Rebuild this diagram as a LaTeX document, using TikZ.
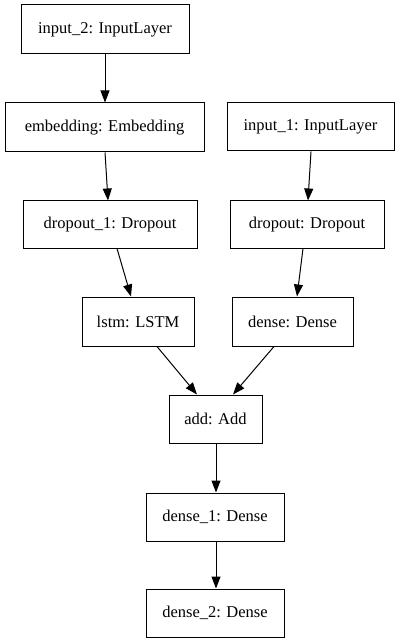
\documentclass[tikz,border=0pt]{standalone}
\usepackage{fontspec}
\setmainfont{Liberation Serif}
\usetikzlibrary{arrows.meta}
\begin{document}
\begin{tikzpicture}[x=1pt,y=-1pt,
  layer/.style={draw,rectangle,line width=1pt,inner sep=0pt,
    font=\fontsize{16.5}{20}\selectfont},
  flow/.style={line width=1pt,-{Triangle[length=12pt,width=9pt]}}]
\useasboundingbox[fill=white] (0,0) rectangle (402,644);
% layers
\node[layer,minimum width=168pt,minimum height=49pt] (in2) at (105,29.5) {input\_2: InputLayer};
\node[layer,minimum width=199pt,minimum height=49pt] (emb) at (104.5,127.5) {embedding: Embedding};
\node[layer,minimum width=167pt,minimum height=48pt] (in1) at (310.5,127) {input\_1: InputLayer};
\node[layer,minimum width=174pt,minimum height=47pt] (do1) at (110,224.5) {dropout\_1: Dropout};
\node[layer,minimum width=154pt,minimum height=47pt] (do) at (307,224.5) {dropout: Dropout};
\node[layer,minimum width=112pt,minimum height=49pt] (lstm) at (138,321.5) {lstm: LSTM};
\node[layer,minimum width=121pt,minimum height=49pt] (dense) at (292.5,321.5) {dense: Dense};
\node[layer,minimum width=93pt,minimum height=48pt] (add) at (215.5,419) {add: Add};
\node[layer,minimum width=138pt,minimum height=48pt] (d1) at (215,517) {dense\_1: Dense};
\node[layer,minimum width=138pt,minimum height=48pt] (d2) at (215,613) {dense\_2: Dense};
% connections
\draw[flow] (in2.south) -- ([xshift=0.5pt]emb.north);
\draw[flow] ([xshift=0.5pt]emb.south) -- ([xshift=-2pt]do1.north);
\draw[flow] ([xshift=7pt]do1.south) -- ([xshift=-7pt]lstm.north);
\draw[flow] ([xshift=0.5pt]in1.south) -- ([xshift=1pt]do.north);
\draw[flow] ([xshift=-4pt]do.south) -- ([xshift=4.5pt]dense.north);
\draw[flow] ([xshift=19pt]lstm.south) -- ([xshift=-18.5pt]add.north);
\draw[flow] ([xshift=-18.5pt]dense.south) -- ([xshift=17.5pt]add.north);
\draw[flow] ([xshift=0.5pt]add.south) -- ([xshift=1pt]d1.north);
\draw[flow] ([xshift=1pt]d1.south) -- ([xshift=1pt]d2.north);
\end{tikzpicture}
\end{document}
